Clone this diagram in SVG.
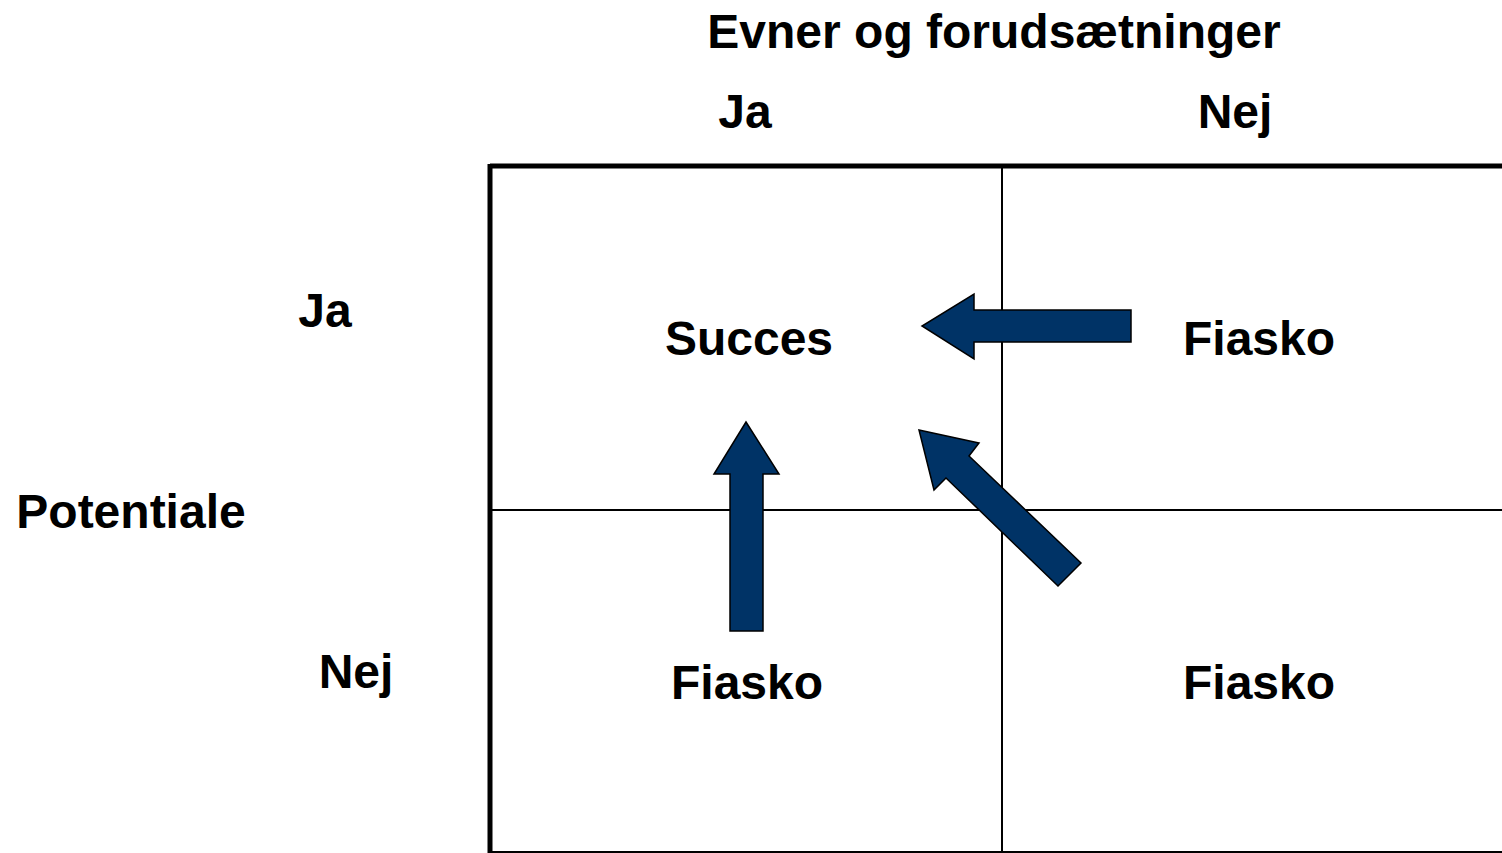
<svg xmlns="http://www.w3.org/2000/svg" width="1502" height="853" viewBox="0 0 1502 853">
<style>
  .t { font-family: "Liberation Sans", Arial, sans-serif; font-weight: bold; font-size: 48px; fill: #000; text-anchor: middle; }
  .arrow { fill: #003366; stroke: #000; stroke-width: 1.5; stroke-linejoin: miter; }
  .thin { stroke: #000; stroke-width: 2; fill: none; }
  .thick { stroke: #000; stroke-width: 5; fill: none; }
</style>
<rect x="0" y="0" width="1502" height="853" fill="#fff"/>
<g id="grid">
  <line class="thin" x1="1002" y1="166" x2="1002" y2="853"/>
  <line class="thin" x1="490" y1="510" x2="1502" y2="510"/>
  <line class="thick" x1="490" y1="166" x2="1502" y2="166"/>
  <line class="thick" x1="490" y1="164" x2="490" y2="853"/>
  <line class="thin" x1="490" y1="852" x2="1502" y2="852"/>
</g>
<g id="headers">
  <text class="t" x="994" y="48">Evner og forudsætninger</text>
  <text class="t" x="745" y="128">Ja</text>
  <text class="t" x="1235" y="128">Nej</text>
  <text class="t" x="325" y="327">Ja</text>
  <text class="t" x="131" y="528">Potentiale</text>
  <text class="t" x="356" y="688">Nej</text>
</g>
<g id="node-succes">
  <text class="t" x="749" y="355">Succes</text>
</g>
<g id="node-fiasko-tr">
  <text class="t" x="1259" y="355">Fiasko</text>
</g>
<g id="node-fiasko-bl">
  <text class="t" x="747" y="699">Fiasko</text>
</g>
<g id="node-fiasko-br">
  <text class="t" x="1259" y="699">Fiasko</text>
</g>
<g id="connectors">
  <polygon class="arrow" points="1131,310 974,310 974,294 922,326 974,359 974,342 1131,342"/>
  <polygon class="arrow" points="746,422 779,474 763,474 763,631 730,631 730,474 714,474"/>
  <polygon class="arrow" points="919,430 979,443 969,456 1081,563 1058,586 946,478 934,490"/>
</g>
</svg>
